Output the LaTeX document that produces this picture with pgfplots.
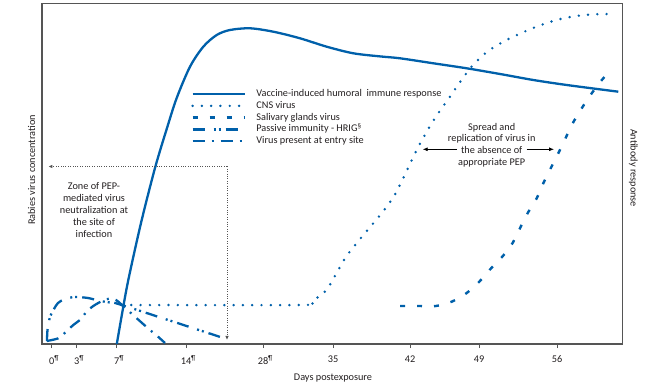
\documentclass[border=0pt]{standalone}
\usepackage{fontspec}
\setmainfont{Carlito}
\usepackage{pgfplots}
\pgfplotsset{compat=1.18}
\usetikzlibrary{arrows.meta}
\definecolor{cdcblue}{RGB}{0,96,170}
\definecolor{axgray}{RGB}{85,85,85}
\definecolor{txt}{RGB}{35,31,32}
\begin{document}
\begin{tikzpicture}[font=\fontsize{10.3}{11.8}\selectfont, text=txt]
\path[use as bounding box] (0,0) rectangle (660bp,385bp);
\begin{axis}[
  at={(42bp,41bp)}, anchor=south west,
  scale only axis, width=580.5bp, height=340.5bp,
  xmin=42, xmax=622.5, ymin=0, ymax=340.5,
  axis line style={axgray, line width=1.3bp},
  xtick={51.7,76.7,116.7,186,263,333,410,479,557},
  xticklabels={0\rlap{\textsuperscript{¶}},3\rlap{\textsuperscript{¶}},7\rlap{\textsuperscript{¶}},14\rlap{\textsuperscript{¶}},28\rlap{\textsuperscript{¶}},35,42,49,56},
  ytick=\empty,
  xtick pos=bottom, tick align=outside, major tick length=4bp,
  tick style={axgray, line width=1bp},
  xticklabel style={font=\fontsize{10.3}{11.8}\selectfont, text=txt, yshift=-4.5bp},
  clip=false,
  legend cell align=left,
  legend style={draw=none, fill=none, at={(axis cs:191,256)}, anchor=north west,
    inner sep=0pt, row sep=0pt,
    /tikz/every odd column/.append style={column sep=9bp},
    nodes={inner xsep=1.5bp, inner ysep=1.25bp, text height=7bp, text depth=2.3bp, font=\fontsize{10.3}{11.8}\selectfont, text=txt}},
  legend image code/.code={\draw[#1] (0bp,0bp) -- (52bp,0bp);},
]
% Vaccine-induced humoral immune response
\addplot[cdcblue, line width=2.3bp, smooth, tension=0.5] coordinates {
(116.8,0) (122,30) (128.3,64) (141,121) (155,176) (166.7,215) (176.7,246)
(190,277.3) (203.3,297.3) (216.7,309) (230,314) (250,315.7) (273.3,312.3)
(300,305.7) (326.7,297.3) (353.3,290.7) (380,287.6) (400,285.7) (433.3,280.7)
(466.7,275.7) (500,270) (533.3,264) (566.7,259) (618.3,252.3)};
\addlegendentry{Vaccine-induced humoral\ \ immune response}
% CNS virus
\addplot[cdcblue, smooth, tension=0.5, line cap=round, line width=2.7bp, dash pattern=on 0bp off 9.3bp] coordinates {
(122,39) (300,39) (311.7,41.3) (318.3,47.3) (326.7,54) (332,63) (340,77) (348,90)
(364.8,110.7) (381.6,130.7) (393.3,146.7) (402.7,164.7) (411,182.3) (419.3,199)
(429.3,216.7) (439.3,232.3) (450,247.3) (461,263.3) (472.7,278.7) (487.3,292.3)
(503.3,302.3) (520.7,310.7) (538.3,318) (556.7,324) (576,328) (595,329.7) (614.3,330)};
\addlegendentry{CNS virus}
% Salivary glands virus
\addplot[cdcblue, smooth, tension=0.5, line width=2.4bp, dash pattern=on 5bp off 12bp] coordinates {
(400,38) (419,38) (436,38) (451.7,42.3) (466.7,51) (479,62) (489.5,74) (502,87)
(512.6,101) (526,128) (536.7,145.7) (543.3,160.7) (551,176.3) (558.3,190.7)
(565,204.7) (572.7,220.7) (581.7,235.7) (591,249.7) (601,263) (612.3,275.7)};
\addlegendentry{Salivary glands virus}
% Passive immunity - HRIG
\addplot[cdcblue, smooth, tension=0.5, line width=2.3bp, dash pattern=on 12bp off 9bp on 2bp off 3bp on 2bp off 5bp] coordinates {
(47,3) (47.5,14) (50,27) (54,35) (58,41) (65,45) (75,47) (88,46) (100,43)
(110,41.5) (121.7,39) (228,4.5)};
\addlegendentry{Passive immunity - HRIG\textsuperscript{§}}
% Virus present at entry site
\addplot[cdcblue, smooth, tension=0.5, line width=2.3bp, dash pattern=on 12bp off 7bp on 2bp off 7bp] coordinates {
(46.7,3) (58.3,5.7) (65,11.3) (73.3,19) (80.7,24.7) (86,31.7) (93.3,38)
(102.7,43.3) (110,45.5) (116,44) (122,39) (135,27.3) (141.7,21.3) (150,14)
(156.7,8.5) (165,1)};
\addlegendentry{Virus present at entry site}

% zone of PEP-mediated neutralization
\draw[axgray, line width=0.8bp, dash pattern=on 0.8bp off 1.6bp, -{Latex[length=4bp,width=3.5bp]}]
  (axis cs:227,177.5) -- (axis cs:48.3,177.5);
\draw[axgray, line width=0.8bp, dash pattern=on 0.8bp off 1.6bp, -{Latex[length=4bp,width=3.5bp]}]
  (axis cs:227,177.5) -- (axis cs:227,4);
\node[align=center, font=\fontsize{10.3}{12}\selectfont] at (axis cs:94,134)
  {Zone of PEP-\\mediated virus\\neutralization at\\the site of\\infection};

% spread and replication
\node[align=center, font=\fontsize{10.3}{11.8}\selectfont] at (axis cs:491.7,199)
  {Spread and\\replication of virus in\\the absence of\\appropriate PEP};
\draw[black, line width=0.8bp, -{Latex[length=5bp,width=4bp]}] (axis cs:456.7,194.7) -- (axis cs:422.7,194.7);
\draw[black, line width=0.8bp, -{Latex[length=5bp,width=4bp]}] (axis cs:526.7,194.7) -- (axis cs:554,194.7);

% axis labels
\node[rotate=90] at (axis cs:31.7,174) {Rabies virus concentration};
\node[rotate=-90] at (axis cs:633.3,176) {Antibody response};
\node at (axis cs:333,-34) {Days postexposure};
\end{axis}
\end{tikzpicture}
\end{document}
